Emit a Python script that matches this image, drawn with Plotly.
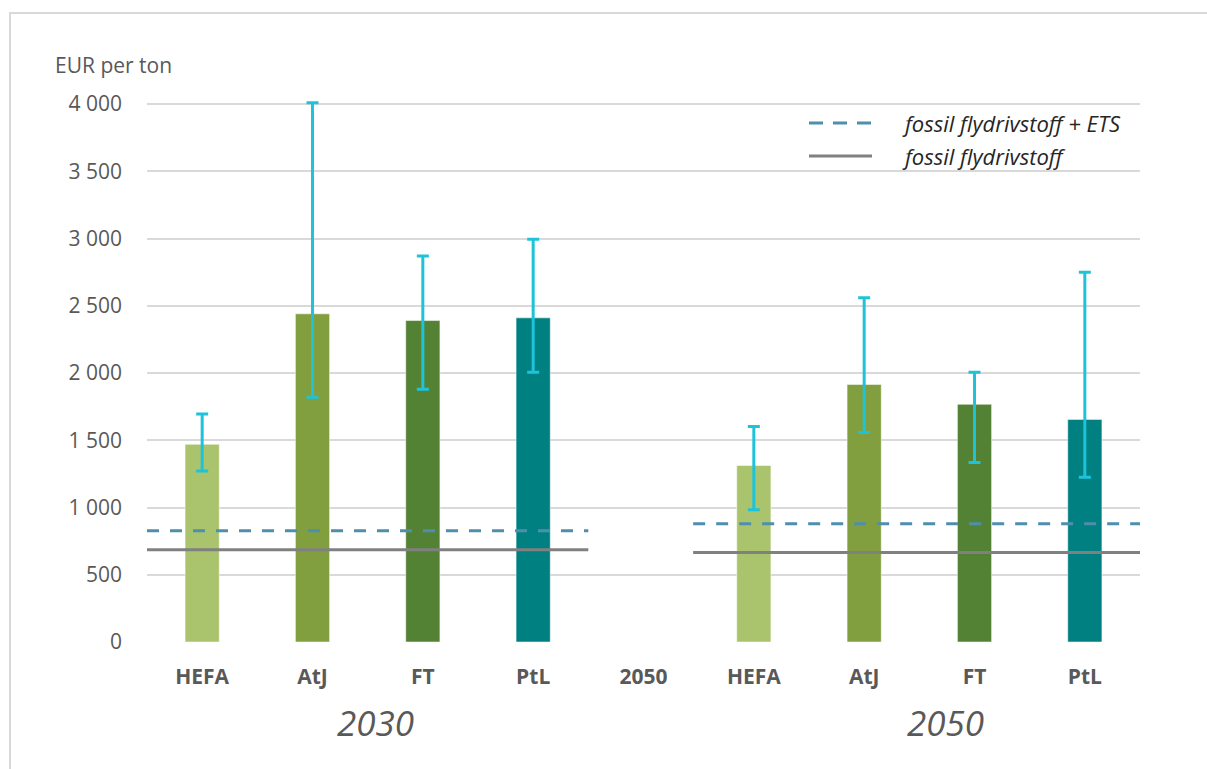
import plotly.graph_objects as go

# Production cost of sustainable aviation fuel pathways, EUR per ton
pathways = ["HEFA", "AtJ", "FT", "PtL"]
tick_labels = ["HEFA", "AtJ", "FT", "PtL", "2050", "HEFA", "AtJ", "FT", "PtL"]
periods = ["2030", "2050"]

cost_2030 = [1470, 2440, 2390, 2410]
high_2030 = [1695, 4010, 2870, 2995]
low_2030 = [1272, 1820, 1880, 2005]

cost_2050 = [1312, 1915, 1767, 1655]
high_2050 = [1603, 2560, 2005, 2750]
low_2050 = [984, 1558, 1335, 1224]

# Fossil jet fuel reference price, with and without ETS allowance cost
fossil_ets = [828, 880]
fossil = [686, 666]
legend_names = ["fossil flydrivstoff + ETS", "fossil flydrivstoff"]

y_ticks = [0, 500, 1000, 1500, 2000, 2500, 3000, 3500, 4000]

bar_colors = ["#a9c46c", "#819f3e", "#548235", "#008080"]
err_color = "#1fc3d9"
ets_color = "#4f8fad"
fossil_color = "#808080"
grey_text = "#595959"
font_family = "'Open Sans', Lato, sans-serif"

# layout geometry (pixels)
W, H = 1207, 769
ML, MR, MT, MB = 147, 67, 98, 127
PW, PH = W - ML - MR, H - MT - MB
Y_TOP_PX, Y_ZERO_PX = 104, H - MB          # pixel rows of 4000 and 0
Y_MAX = 4000 * PH / (Y_ZERO_PX - Y_TOP_PX)  # a little headroom for the caps


def px_x(p):
    return (p - ML) / PW


def px_y(p):
    return (H - MB - p) / PH


pos_2030 = [0, 1, 2, 3]
pos_2050 = [5, 6, 7, 8]

fig = go.Figure()

for pos, cost, hi, lo in [(pos_2030, cost_2030, high_2030, low_2030),
                          (pos_2050, cost_2050, high_2050, low_2050)]:
    fig.add_trace(go.Bar(
        x=pos, y=cost,
        marker=dict(color=bar_colors, line=dict(color="rgba(255,255,255,0.5)", width=1)),
        width=0.31,
        error_y=dict(type="data", symmetric=False,
                     array=[h - c for h, c in zip(hi, cost)],
                     arrayminus=[c - l for c, l in zip(cost, lo)],
                     color=err_color, thickness=3, width=6),
        cliponaxis=False, showlegend=False, hoverinfo="x+y",
    ))

# reference price lines across each period
spans = [(-0.5, 3.5), (4.45, 8.5)]
for i, (x0, x1) in enumerate(spans):
    fig.add_trace(go.Scatter(
        x=[x0, x1], y=[fossil_ets[i], fossil_ets[i]], mode="lines",
        line=dict(color=ets_color, width=3, dash="12px,11px"),
        name=legend_names[0], showlegend=False,
    ))
for i, (x0, x1) in enumerate(spans):
    fig.add_trace(go.Scatter(
        x=[x0, x1], y=[fossil[i], fossil[i]], mode="lines",
        line=dict(color=fossil_color, width=3),
        name=legend_names[1], showlegend=False,
    ))

annotations = [
    dict(text="EUR per ton", x=px_x(53), y=px_y(65), xref="paper", yref="paper",
         xanchor="left", yanchor="middle", showarrow=False,
         font=dict(size=21, color=grey_text)),
    dict(text="<i>2030</i>", x=px_x(375), y=px_y(722), xref="paper", yref="paper",
         xanchor="center", yanchor="middle", showarrow=False,
         font=dict(size=35, color=grey_text)),
    dict(text="<i>2050</i>", x=px_x(945), y=px_y(722), xref="paper", yref="paper",
         xanchor="center", yanchor="middle", showarrow=False,
         font=dict(size=35, color=grey_text)),
]

shapes = [
    dict(type="rect", xref="paper", yref="paper",
         x0=px_x(10), x1=px_x(1220), y0=px_y(790), y1=px_y(13),
         line=dict(color="#d9d9d9", width=2), fillcolor="rgba(0,0,0,0)", layer="below"),
]

# legend block (top right): line sample + italic label
legend_rows = [(123, ets_color, "14px,10px", legend_names[0]),
               (156, fossil_color, "solid", legend_names[1])]
for row_y, color, dash, label in legend_rows:
    shapes.append(dict(type="line", xref="paper", yref="paper",
                       x0=px_x(809), x1=px_x(872), y0=px_y(row_y), y1=px_y(row_y),
                       line=dict(color=color, width=3, dash=dash)))
    annotations.append(dict(text=f"<i>{label}</i>", x=px_x(900), y=px_y(row_y),
                            xref="paper", yref="paper", xanchor="left", yanchor="middle",
                            showarrow=False, font=dict(size=22, color="#262626")))

fig.update_layout(
    width=W, height=H,
    margin=dict(l=ML, r=MR, t=MT, b=MB, pad=0),
    paper_bgcolor="white", plot_bgcolor="white",
    font=dict(family=font_family, color=grey_text, size=21),
    showlegend=False,
    annotations=annotations,
    shapes=shapes,
    xaxis=dict(range=[-0.5, 8.5], tickvals=list(range(9)),
               ticktext=[f"<b>{t}</b>" for t in tick_labels],
               showgrid=False, zeroline=False, showline=False, ticks="",
               ticklabelstandoff=20,
               tickfont=dict(size=21, color=grey_text)),
    yaxis=dict(range=[0, Y_MAX], tickvals=y_ticks,
               ticktext=[f"{v:,}".replace(",", " ") for v in y_ticks],
               showgrid=True, gridcolor="#d9d9d9", gridwidth=2,
               zeroline=False, showline=False, ticks="",
               ticklabelstandoff=24,
               tickfont=dict(size=21, color=grey_text)),
)

fig.write_html("out.html")
